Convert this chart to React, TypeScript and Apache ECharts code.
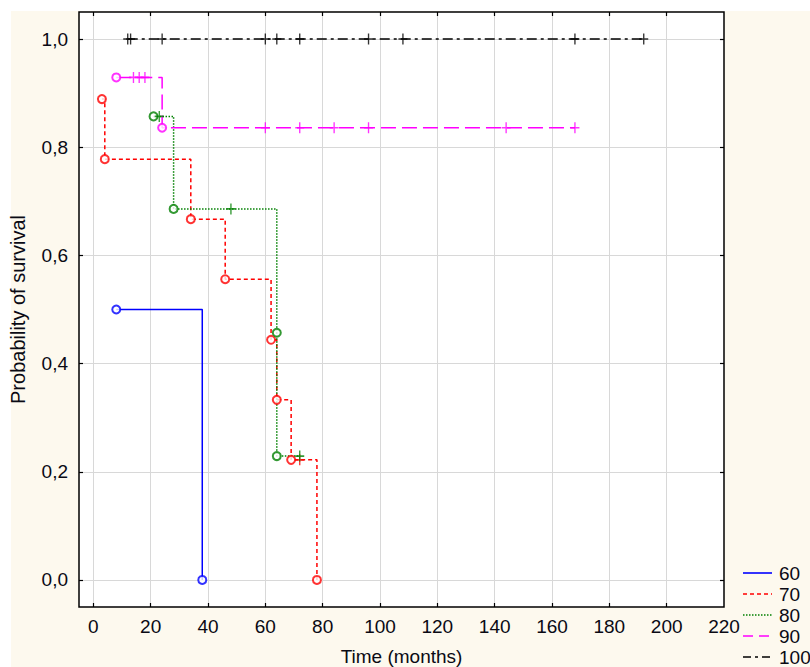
import React, { useEffect, useRef } from "react";
import * as echarts from "echarts";

// ---- data ----
const groupNames = ["60", "70", "80", "90", "100"];

const eventTimes60 = [8, 38];
const eventSurv60 = [0.5, 0];
const censorTimes60: number[] = [];
const censorSurv60: number[] = [];

const eventTimes70 = [3, 4, 34, 46, 62, 64, 69, 78];
const eventSurv70 = [0.889, 0.778, 0.667, 0.556, 0.444, 0.333, 0.222, 0];
const censorTimes70 = [72];
const censorSurv70 = [0.222];

const eventTimes80 = [21, 28, 64, 64];
const eventSurv80 = [0.857, 0.686, 0.457, 0.229];
const censorTimes80 = [23, 48, 72];
const censorSurv80 = [0.857, 0.686, 0.229];

const eventTimes90 = [8, 24];
const eventSurv90 = [0.929, 0.836];
const censorTimes90 = [14, 16, 18, 60, 72, 84, 96, 144, 168];
const censorSurv90 = [0.929, 0.929, 0.929, 0.836, 0.836, 0.836, 0.836, 0.836, 0.836];

const eventTimes100: number[] = [];
const eventSurv100: number[] = [];
const censorTimes100 = [12, 13, 24, 60, 64, 72, 96, 108, 168, 192];
const censorSurv100 = [1, 1, 1, 1, 1, 1, 1, 1, 1, 1];

const xLabelValues = [0, 20, 40, 60, 80, 100, 120, 140, 160, 180, 200, 220];
const xTickValues = [0, 20, 40, 60, 80, 100, 120, 140, 160, 180, 200];
const yTickValues = [0, 0.2, 0.4, 0.6, 0.8, 1.0];

const xTitle = "Time (months)";
const yTitle = "Probability of survival";

// ---- styles ----
const colors = ["#0000ff", "#ff0000", "#008000", "#ff00ff", "#000000"];
const dashes: any[] = ["solid", [4, 3], [1.5, 1.5], [15, 6], [10, 4, 3, 4]];
const legendDashes: any[] = [null, [4, 3], [1.5, 1.5], [10, 6], [8, 4, 3, 4]];
const narrow = "'Liberation Sans Narrow', 'Arial Narrow', 'Liberation Sans', Arial, sans-serif";
const regular = "'Liberation Sans', Arial, sans-serif";
const textColor = "#0a0a14";

const groups = [
  { et: eventTimes60, es: eventSurv60, ct: censorTimes60, cs: censorSurv60 },
  { et: eventTimes70, es: eventSurv70, ct: censorTimes70, cs: censorSurv70 },
  { et: eventTimes80, es: eventSurv80, ct: censorTimes80, cs: censorSurv80 },
  { et: eventTimes90, es: eventSurv90, ct: censorTimes90, cs: censorSurv90 },
  { et: eventTimes100, es: eventSurv100, ct: censorTimes100, cs: censorSurv100 },
];

function zip(a: number[], b: number[]) {
  return a.map((v, i) => [v, b[i]]);
}

function buildSeries() {
  const series: any[] = [];
  groups.forEach((g, i) => {
    const ev = zip(g.et, g.es).map((p) => ({ p, k: 0 }));
    const ce = zip(g.ct, g.cs).map((p) => ({ p, k: 1 }));
    const all = [...ev, ...ce].sort((a, b) => a.p[0] - b.p[0] || a.k - b.k).map((o) => o.p);
    series.push({
      name: groupNames[i],
      type: "line",
      step: "end",
      symbol: "none",
      data: all,
      lineStyle: { color: colors[i], width: 1.5, type: dashes[i] },
      itemStyle: { color: colors[i] },
      z: 2,
    });
    if (g.et.length) {
      series.push({
        name: groupNames[i] + " events",
        type: "scatter",
        symbol: "emptyCircle",
        symbolSize: 8,
        data: zip(g.et, g.es),
        itemStyle: { color: colors[i], borderColor: colors[i], borderWidth: 1.6 },
        z: 3,
      });
    }
    if (g.ct.length) {
      series.push({
        name: groupNames[i] + " censored",
        type: "scatter",
        symbol: "path://M5 0 L5 10 M0 5 L10 5",
        symbolSize: [9, 11],
        data: zip(g.ct, g.cs),
        itemStyle: { color: "rgba(0,0,0,0)", borderColor: colors[i], borderWidth: 1.5 },
        z: 3,
      });
    }
  });
  return series;
}

function buildLegend() {
  const els: any[] = [];
  groupNames.forEach((n, i) => {
    const y = 573 + i * 21;
    els.push({
      type: "line",
      shape: { x1: 743, y1: y, x2: 772, y2: y },
      style: { stroke: colors[i], lineWidth: 1.6, lineDash: legendDashes[i] || undefined },
    });
    els.push({
      type: "text",
      x: 779,
      y: y,
      style: { text: n, fill: textColor, font: `19px ${narrow}`, textVerticalAlign: "middle", verticalAlign: "middle" },
    });
  });
  return els;
}

export default function App() {
  const ref = useRef<HTMLDivElement>(null);
  useEffect(() => {
    if (!ref.current) return;
    const chart = echarts.init(ref.current, undefined, { renderer: "svg" });
    const labelStyle = { fontFamily: narrow, fontSize: 19, color: textColor };
    const tickStyle = { lineStyle: { color: "#000", width: 1.2 } };
    chart.setOption({
      animation: false,
      backgroundColor: "transparent",
      grid: {
        left: 79,
        right: 86,
        top: 12,
        bottom: 60,
        show: true,
        containLabel: false,
        outerBoundsMode: "none",
        backgroundColor: "#ffffff",
        borderColor: "#000000",
        borderWidth: 1.5,
      },
      graphic: buildLegend(),
      xAxis: [
        {
          type: "value",
          min: -5,
          max: 220,
          position: "bottom",
          name: xTitle,
          nameLocation: "middle",
          nameGap: 40,
          nameTextStyle: { fontFamily: narrow, fontSize: 19, color: textColor },
          axisLine: { show: false, onZero: false },
          axisTick: { show: true, inside: true, length: 4, customValues: xTickValues, ...tickStyle },
          axisLabel: { customValues: xLabelValues, margin: 10, ...labelStyle },
          splitLine: { show: true, lineStyle: { color: "#d8d8d8", width: 1 } },
        },
        {
          type: "value",
          min: -5,
          max: 220,
          position: "top",
          axisLine: { show: false, onZero: false },
          axisTick: { show: true, inside: true, length: 4, customValues: xTickValues, ...tickStyle },
          axisLabel: { show: false },
          splitLine: { show: false },
        },
      ],
      yAxis: [
        {
          type: "value",
          min: -0.05,
          max: 1.05,
          position: "left",
          name: yTitle,
          nameLocation: "middle",
          nameGap: 51,
          nameRotate: 90,
          nameTextStyle: { fontFamily: regular, fontSize: 20, color: textColor },
          axisLine: { show: false, onZero: false },
          axisTick: { show: true, inside: true, length: 4, customValues: yTickValues, ...tickStyle },
          axisLabel: {
            customValues: yTickValues,
            margin: 11,
            formatter: (v: number) => v.toFixed(1).replace(".", ","),
            ...labelStyle,
          },
          splitLine: { show: true, lineStyle: { color: "#d8d8d8", width: 1 } },
        },
        {
          type: "value",
          min: -0.05,
          max: 1.05,
          position: "right",
          axisLine: { show: false, onZero: false },
          axisTick: { show: true, inside: true, length: 4, customValues: yTickValues, ...tickStyle },
          axisLabel: { show: false },
          splitLine: { show: false },
        },
      ],
      series: buildSeries(),
    });
    return () => chart.dispose();
  }, []);

  return (
    <div style={{ position: "fixed", left: 0, top: 0, width: 810, height: 667, background: "#ffffff", overflow: "hidden" }}>
      <div style={{ position: "absolute", left: 11, top: 11, right: 0, bottom: 0, background: "#fdf9ee" }} />
      <div ref={ref} style={{ position: "absolute", left: 0, top: 0, width: 810, height: 667 }} />
    </div>
  );
}
